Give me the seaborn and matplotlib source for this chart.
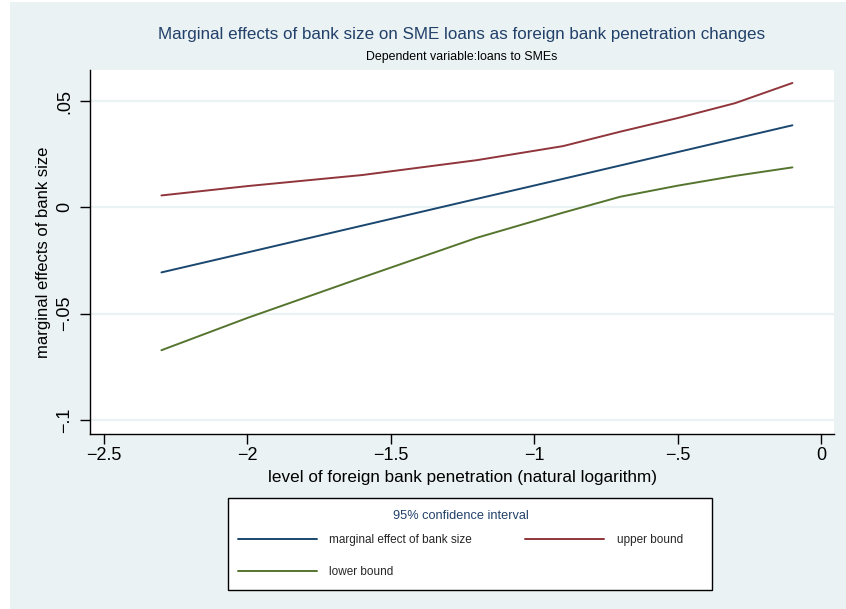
import matplotlib
matplotlib.use("Agg")
import matplotlib.pyplot as plt
import matplotlib.patches as mpatches
from matplotlib.lines import Line2D
import seaborn as sns
import pandas as pd

# log of foreign bank penetration
penetration = [-2.3, -2.0, -1.6, -1.2, -0.9, -0.7, -0.5, -0.3, -0.1]
# marginal effect of bank size and its 95% confidence bounds
effect = [-0.0306, -0.0212, -0.0086, 0.0040, 0.0134, 0.0197, 0.0260, 0.0323, 0.0386]
upper = [0.0056, 0.0100, 0.0152, 0.0222, 0.0288, 0.0356, 0.0420, 0.0490, 0.0585]
lower = [-0.0672, -0.0520, -0.0330, -0.0143, -0.0025, 0.0050, 0.0102, 0.0148, 0.0188]

x_ticks = [-2.5, -2.0, -1.5, -1.0, -0.5, 0.0]
x_tick_labels = ["\u22122.5", "\u22122", "\u22121.5", "\u22121", "\u2212.5", "0"]
y_ticks = [-0.1, -0.05, 0.0, 0.05]
y_tick_labels = ["\u2212.1", "\u2212.05", "0", ".05"]

series_names = ["marginal effect of bank size", "upper bound", "lower bound"]
colors = {"marginal effect of bank size": "#1A476F",
          "upper bound": "#90353B",
          "lower bound": "#55752F"}

df = pd.concat([
    pd.DataFrame({"x": penetration, "y": effect, "series": series_names[0]}),
    pd.DataFrame({"x": penetration, "y": upper, "series": series_names[1]}),
    pd.DataFrame({"x": penetration, "y": lower, "series": series_names[2]}),
])

sns.set_theme(style="white")
plt.rcParams["font.family"] = ["Liberation Sans", "DejaVu Sans"]

W, H = 846, 609
fig = plt.figure(figsize=(W / 100, H / 100), dpi=100, facecolor="white")
bg = "#EAF2F3"
navy_text = "#22406A"
fig.patches.append(mpatches.Rectangle((10 / W, 0), 1 - 10 / W, 1 - 2 / H,
                                      transform=fig.transFigure, facecolor=bg,
                                      edgecolor="none", zorder=-10))

ax = fig.add_axes([90 / W, 1 - 434 / H, (834 - 90) / W, (434 - 70) / H])
ax.set_facecolor("white")

for yv in y_ticks:
    ax.axhline(yv, color="#EAF2F3", lw=1.6, zorder=0)

sns.lineplot(data=df, x="x", y="y", hue="series", hue_order=series_names,
             palette=colors, ax=ax, legend=False, lw=1.4, sort=False,
             estimator=None)

ax.set_xlim(-2.549, 0.045)
ax.set_ylim(-0.1066, 0.0646)
ax.set_xticks(x_ticks)
ax.set_xticklabels(x_tick_labels, fontsize=13)
ax.set_yticks(y_ticks)
ax.set_yticklabels(y_tick_labels, fontsize=13, rotation=90, va="center")
ax.tick_params(axis="both", direction="out", length=7, width=1, color="black",
               bottom=True, left=True, labelcolor="black")
ax.tick_params(axis="x", pad=2)
ax.tick_params(axis="y", pad=5)
for side in ["top", "right"]:
    ax.spines[side].set_visible(False)
for side in ["left", "bottom"]:
    ax.spines[side].set_color("black")
    ax.spines[side].set_linewidth(1)

ax.set_xlabel("level of foreign bank penetration (natural logarithm)",
              fontsize=12.3, color="black", labelpad=5)
ax.set_ylabel("marginal effects of bank size", fontsize=12, color="black",
              labelpad=4)

fig.text(462 / W, 1 - 34 / H,
         "Marginal effects of bank size on SME loans as foreign bank penetration changes",
         ha="center", va="center", fontsize=12.25, color=navy_text)
fig.text(462 / W, 1 - 57 / H, "Dependent variable:loans to SMEs",
         ha="center", va="center", fontsize=8.9, color="black")

# legend box
fig.patches.append(mpatches.Rectangle((228 / W, 1 - 590 / H), 484 / W, 92 / H,
                                      transform=fig.transFigure, facecolor="white",
                                      edgecolor="black", lw=1, zorder=1))

handles = [Line2D([], [], color=colors[series_names[0]], lw=1.4),
           Line2D([], [], color=colors[series_names[2]], lw=1.4),
           Line2D([], [], color=colors[series_names[1]], lw=1.4)]
labels = [series_names[0], series_names[2], series_names[1]]
leg = fig.legend(handles, labels, ncol=2, fontsize=8.5,
                 title="95% confidence interval", title_fontsize=9.2,
                 loc="upper left", bbox_to_anchor=(238 / W, 1 - 510 / H),
                 handlelength=6.7, handletextpad=1.05,
                 columnspacing=4.5, labelspacing=1.65, borderpad=0,
                 borderaxespad=0, frameon=False)
leg.get_title().set_color(navy_text)
leg._legend_box.sep = 9
leg.set_zorder(2)

fig.savefig("out.png", dpi=100, facecolor="white")
